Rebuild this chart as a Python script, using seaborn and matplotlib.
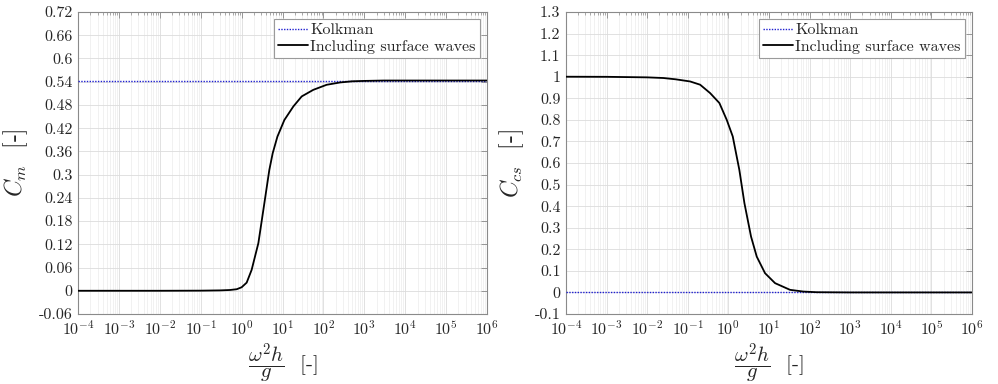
import numpy as np
import pandas as pd
import matplotlib
matplotlib.use('Agg')
import matplotlib.pyplot as plt
import matplotlib.ticker as mticker
import seaborn as sns

# values
x_cm = [1e-4, 1e-3, 1e-2, 0.1, 0.3, 0.52, 0.76, 1.0, 1.33, 1.76, 2.57, 3.6,
        4.76, 5.75, 7.5, 11.1, 18.4, 29.5, 56.7, 120, 255, 500, 1000, 3000,
        1e4, 1e5, 1e6]
cm_waves = [0, 0, 0, 0.0003, 0.001, 0.002, 0.004, 0.009, 0.021, 0.054, 0.123,
            0.226, 0.312, 0.355, 0.398, 0.441, 0.476, 0.502, 0.519, 0.532,
            0.538, 0.541, 0.542, 0.543, 0.543, 0.543, 0.543]
cm_kolkman = 0.543

x_ccs = [1e-4, 1e-3, 1e-2, 0.025, 0.05, 0.114, 0.201, 0.355, 0.6, 0.91, 1.28,
         1.86, 2.48, 3.61, 4.99, 8.0, 14.1, 33, 70, 150, 1e3, 1e4, 1e6]
ccs_waves = [1.0, 0.9995, 0.997, 0.994, 0.988, 0.978, 0.963, 0.924, 0.878,
             0.80, 0.723, 0.568, 0.414, 0.259, 0.166, 0.089, 0.043, 0.012,
             0.004, 0.001, 0, 0, 0]
ccs_kolkman = 0.0

cm_yticks = [-0.06, 0, 0.06, 0.12, 0.18, 0.24, 0.3, 0.36, 0.42, 0.48, 0.54,
             0.6, 0.66, 0.72]
ccs_yticks = [-0.1, 0, 0.1, 0.2, 0.3, 0.4, 0.5, 0.6, 0.7, 0.8, 0.9, 1, 1.1,
              1.2, 1.3]

sns.set_theme(style='white')
plt.rcParams['font.family'] = ['cmr10']
plt.rcParams['mathtext.fontset'] = 'cm'
plt.rcParams['axes.unicode_minus'] = False
plt.rcParams['axes.formatter.use_mathtext'] = True

spine_col = '#8a8a8a'
text_col = '#262626'

fig = plt.figure(figsize=(9.98, 3.84), dpi=100)
ax1 = fig.add_axes([78 / 998, 70 / 384, 409 / 998, 302 / 384])
ax2 = fig.add_axes([566 / 998, 70 / 384, 406 / 998, 302 / 384])


def draw(ax, xs, ys, kol, yticks, ylab):
    df = pd.DataFrame({'x': xs, 'y': ys})
    kdf = pd.DataFrame({'x': [1e-4, 1e6], 'y': [kol, kol]})
    sns.lineplot(data=kdf, x='x', y='y', ax=ax, color='#1f1fd0', lw=1.0,
                 linestyle=(0, (1, 1)), label='Kolkman', zorder=3)
    sns.lineplot(data=df, x='x', y='y', ax=ax, color='black', lw=1.3,
                 label='Including surface waves', zorder=4, sort=False)
    ax.set_xscale('log')
    ax.set_xlim(1e-4, 1e6)
    ax.set_ylim(yticks[0], yticks[-1])
    ax.set_xticks([10.0 ** k for k in range(-4, 7)])
    ax.xaxis.set_minor_locator(mticker.LogLocator(base=10, subs=np.arange(2, 10), numticks=30))
    ax.xaxis.set_minor_formatter(mticker.NullFormatter())
    ax.set_yticks(yticks)
    ax.yaxis.set_major_formatter(mticker.FuncFormatter(lambda v, p: '%g' % round(v, 4)))
    ax.grid(True, which='major', color='#dcdcdc', lw=0.6)
    ax.grid(True, which='minor', axis='x', color='#ececec', lw=0.5)
    ax.set_axisbelow(True)
    for s in ax.spines.values():
        s.set_color(spine_col)
        s.set_linewidth(0.8)
    ax.tick_params(which='both', direction='in', top=True, right=True,
                   color=spine_col, labelcolor=text_col, labelsize=11.5)
    ax.tick_params(which='major', length=4, width=0.6, pad=4)
    ax.tick_params(which='minor', length=2, width=0.5)
    ax.set_xlabel(r'$\dfrac{\omega^2 h}{g}$  [-]', fontsize=15, color=text_col, labelpad=2)
    ax.set_ylabel(ylab, fontsize=17, color=text_col, labelpad=6)
    leg = ax.legend(loc='upper right', fontsize=11.5, frameon=True, fancybox=False,
                    edgecolor='#9a9a9a', framealpha=1, handlelength=1.9,
                    handletextpad=0.15, borderpad=0.25, labelspacing=0.15,
                    borderaxespad=0.45)
    leg.get_frame().set_linewidth(0.8)
    for t in leg.get_texts():
        t.set_color(text_col)


draw(ax1, x_cm, cm_waves, cm_kolkman, cm_yticks, r'$C_m$  [-]')
draw(ax2, x_ccs, ccs_waves, ccs_kolkman, ccs_yticks, r'$C_{cs}$  [-]')

fig.savefig('out.png', dpi=100)
